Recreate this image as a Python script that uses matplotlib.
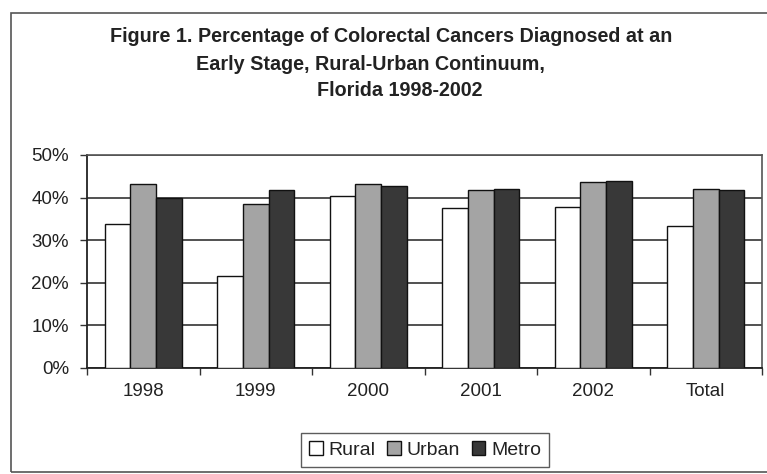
import matplotlib
matplotlib.use("Agg")
import matplotlib.pyplot as plt
import numpy as np
from matplotlib.patches import Rectangle

categories = ["1998", "1999", "2000", "2001", "2002", "Total"]
series_names = ["Rural", "Urban", "Metro"]
rural = [33.9, 21.6, 40.4, 37.6, 37.8, 33.3]
urban = [43.3, 38.6, 43.2, 41.8, 43.7, 42.0]
metro = [40.0, 41.7, 42.8, 42.1, 43.8, 41.7]
y_ticks = [0, 10, 20, 30, 40, 50]
y_tick_labels = ["0%", "10%", "20%", "30%", "40%", "50%"]
title_lines = ["Figure 1. Percentage of Colorectal Cancers Diagnosed at an",
               "Early Stage, Rural-Urban Continuum,",
               "Florida 1998-2002"]

plt.rcParams["font.family"] = ["Liberation Sans", "DejaVu Sans"]

W, H = 767, 474
fig = plt.figure(figsize=(W / 100, H / 100), dpi=100)
fig.patch.set_facecolor("white")

# outer frame around the whole figure
fig.add_artist(Rectangle((11 / W, 2 / H), 1.2, 1 - 15 / H,
                         transform=fig.transFigure, fill=False,
                         edgecolor="#555555", linewidth=1.2))

ax = fig.add_axes([87 / W, 1 - 368 / H, 675 / W, 213 / H])

x = np.arange(len(categories))
w = 0.227
colors = ["white", "#a4a4a4", "#383838"]
for i, (vals, c) in enumerate(zip([rural, urban, metro], colors)):
    ax.bar(x + (i - 1) * w, vals, width=w, color=c, edgecolor="#111111",
           linewidth=1.0, label=series_names[i], zorder=3)

ax.set_xlim(-0.5, len(categories) - 0.5)
ax.set_ylim(0, 50)
ax.set_yticks(y_ticks)
ax.set_yticklabels(y_tick_labels, fontsize=13.5, color="#222222")
ax.set_xticks(x)
ax.set_xticklabels(categories, fontsize=13.5, color="#222222")
ax.tick_params(axis="x", length=0, pad=11)
ax.set_xticks(np.arange(-0.5, len(categories), 1.0), minor=True)
ax.tick_params(axis="x", which="minor", length=5, width=1.0, direction="out",
               color="#333333")
ax.tick_params(axis="y", length=5, width=1.0, direction="out",
               color="#333333", pad=8)

ax.yaxis.grid(True, color="#333333", linewidth=1.2, zorder=0)
ax.set_axisbelow(True)
for side in ["left", "bottom"]:
    ax.spines[side].set_color("#222222")
    ax.spines[side].set_linewidth(1.3)
for side in ["top", "right"]:
    ax.spines[side].set_color("#555555")
    ax.spines[side].set_linewidth(1.2)

# title, one line at a time
title_x = [391, 370, 400]
title_y = [37, 65, 90]
for txt, tx, ty in zip(title_lines, title_x, title_y):
    fig.text(tx / W, 1 - ty / H, txt, ha="center", va="center",
             fontsize=14.2, fontweight="bold", color="#222222")

leg = fig.legend(loc="center", bbox_to_anchor=(425 / W, 1 - 450 / H),
                 ncol=3, fontsize=14, frameon=True, fancybox=False,
                 handlelength=0.7, handleheight=0.7, handletextpad=0.3,
                 columnspacing=0.6, borderpad=0.4, edgecolor="#333333")
leg.get_frame().set_linewidth(1.0)
for t in leg.get_texts():
    t.set_color("#222222")

fig.savefig("out.png", dpi=100, facecolor="white")
